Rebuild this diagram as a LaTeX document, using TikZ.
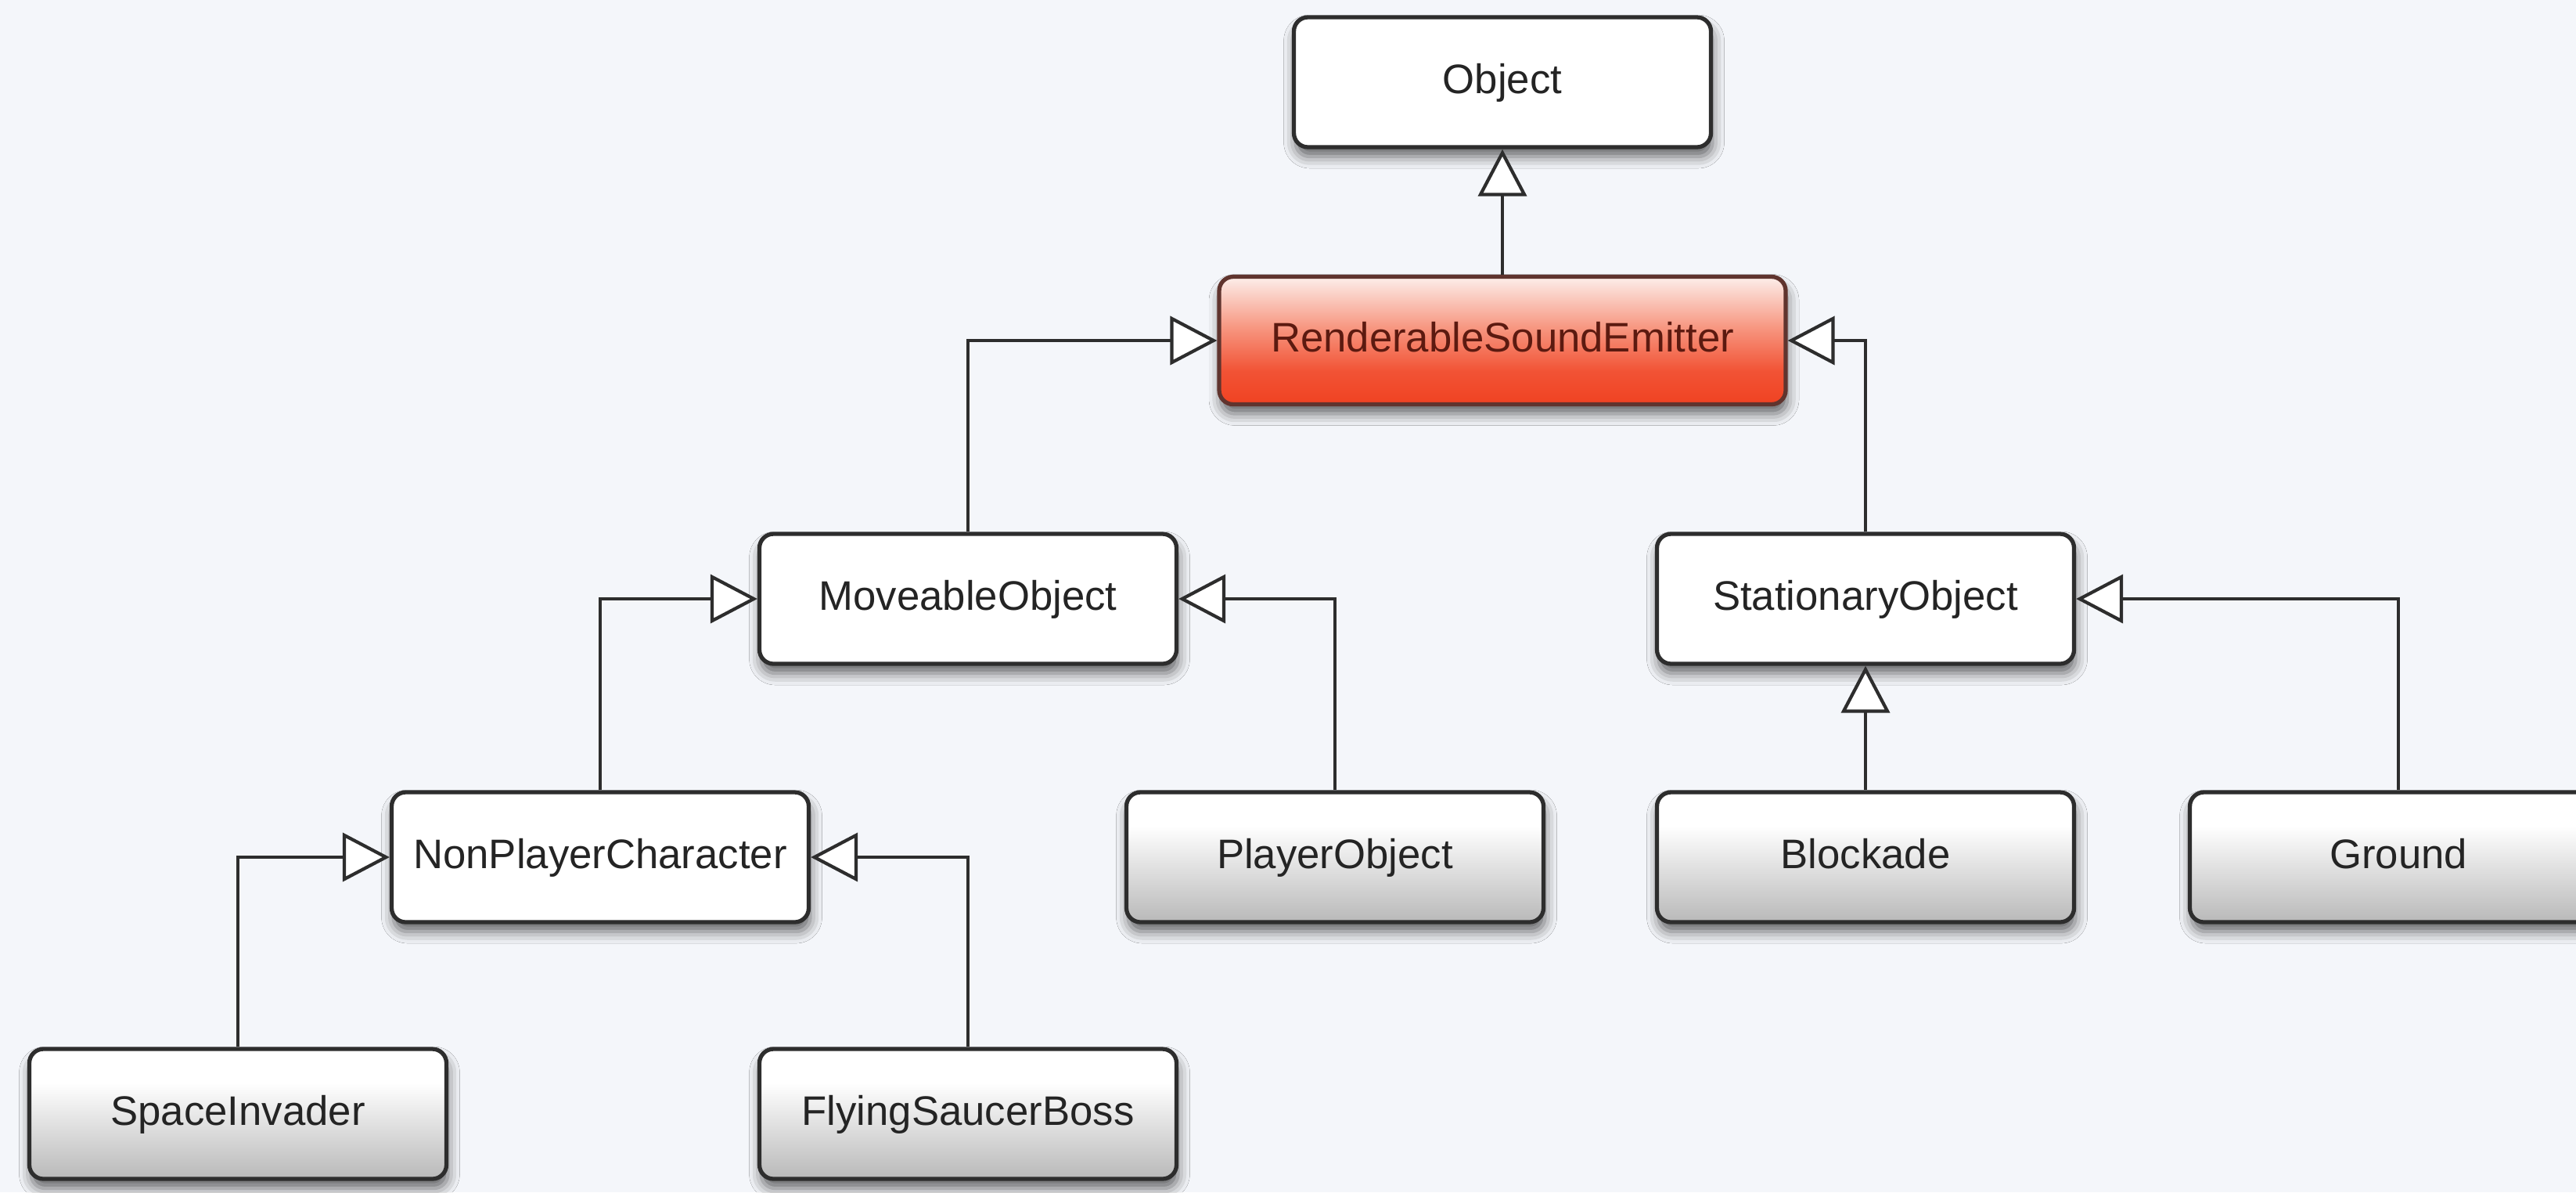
\documentclass[tikz,border=0pt]{standalone}
\usepackage{fontspec}
\setmainfont{Liberation Sans}
\usetikzlibrary{arrows.meta,shadows.blur}

\definecolor{bg}{RGB}{244,246,250}
\definecolor{edge}{RGB}{45,45,45}
\definecolor{ink}{RGB}{36,36,36}
\definecolor{redtop}{RGB}{252,238,234}
\definecolor{redmid}{RGB}{247,150,128}
\definecolor{redbot}{RGB}{240,66,34}
\definecolor{redink}{RGB}{92,26,16}
\definecolor{rededge}{RGB}{96,52,46}

% vertical fades for the leaf classes and the highlighted class
\pgfdeclareverticalshading{greyfade}{100bp}{color(0bp)=(gray!55); color(25bp)=(gray!55); color(42bp)=(gray!30); color(62bp)=(white); color(100bp)=(white)}
\pgfdeclareverticalshading{redfade}{100bp}{color(0bp)=(redbot); color(25bp)=(redbot); color(38bp)=(redbot!80!redmid); color(55bp)=(redmid); color(75bp)=(redtop); color(100bp)=(redtop)}

\tikzset{
  classbox/.style={rectangle, rounded corners=0.18cm, draw=edge, line width=1.5pt,
    minimum width=5.33cm, minimum height=1.66cm, text=ink,
    text height=1.15em, text depth=0.3em,
    font=\fontsize{15}{18}\selectfont,
    blur shadow={shadow xshift=0.02cm, shadow yshift=-0.12cm, shadow blur radius=0.15cm, shadow opacity=60}},
  plainclass/.style={classbox, fill=white},
  leafclass/.style={classbox, shading=greyfade},
  hotclass/.style={classbox, shading=redfade, draw=rededge, text=redink, minimum width=7.24cm, minimum height=1.63cm},
  inherits/.style={draw=edge, line width=1.2pt,
    -{Triangle[length=0.6cm, width=0.62cm, fill=white, line width=1.2pt]}}
}

\begin{document}
\begin{tikzpicture}
  \fill[bg] (0,0) rectangle (32.92,-15.23);
  \useasboundingbox (0,0) rectangle (32.92,-15.23);

  % class nodes
  \node[plainclass] (obj) at (19.20,-1.05) {Object};
  \node[hotclass]   (rse) at (19.20,-4.35) {RenderableSoundEmitter};
  \node[plainclass] (mo)  at (12.37,-7.65) {MoveableObject};
  \node[plainclass] (so)  at (23.84,-7.65) {StationaryObject};
  \node[plainclass] (npc) at (7.67,-10.95) {NonPlayerCharacter};
  \node[leafclass]  (po)  at (17.06,-10.95) {PlayerObject};
  \node[leafclass]  (blk) at (23.84,-10.95) {Blockade};
  \node[leafclass]  (gnd) at (30.65,-10.95) {Ground};
  \node[leafclass]  (si)  at (3.04,-14.23) {SpaceInvader};
  \node[leafclass]  (fsb) at (12.37,-14.23) {FlyingSaucerBoss};

  % generalisation connectors
  \draw[inherits] (rse.north) -- (obj.south);
  \draw[inherits] (mo.north) |- (rse.west);
  \draw[inherits] (so.north) |- (rse.east);
  \draw[inherits] (npc.north) |- (mo.west);
  \draw[inherits] (po.north) |- (mo.east);
  \draw[inherits] (blk.north) -- (so.south);
  \draw[inherits] (gnd.north) |- (so.east);
  \draw[inherits] (si.north) |- (npc.west);
  \draw[inherits] (fsb.north) |- (npc.east);
\end{tikzpicture}
\end{document}
